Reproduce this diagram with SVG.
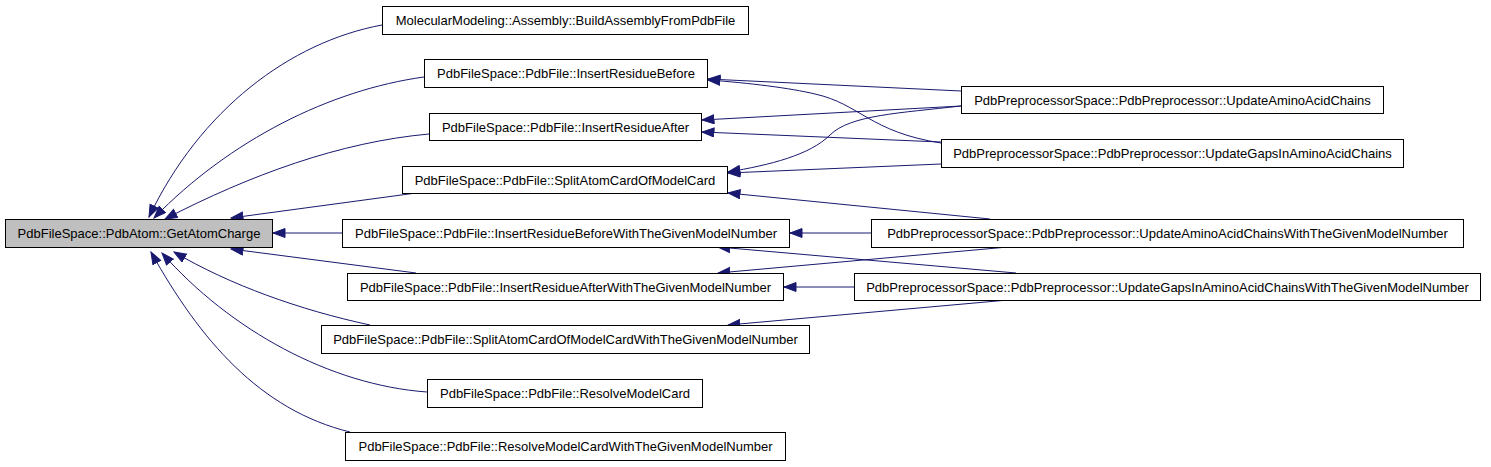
<svg xmlns="http://www.w3.org/2000/svg" width="1491" height="467" viewBox="0 0 1491 467">
<style>
.node rect{fill:#ffffff;stroke:#000000;stroke-width:1}
.node.root rect{fill:#bfbfbf}
.node text{font-family:"Liberation Sans",Arial,sans-serif;font-size:13px;fill:#000000;text-anchor:middle}
.edges path{fill:none;stroke:#191970;stroke-width:1;marker-end:url(#arr)}
</style>
<defs>
<marker id="arr" markerUnits="userSpaceOnUse" markerWidth="14" markerHeight="11" refX="12.5" refY="5" orient="auto">
<path d="M0.5,0.5 L12.5,5 L0.5,9.5 z" fill="#191970" stroke="#191970" stroke-width="1"/>
</marker>
</defs>
<rect width="1491" height="467" fill="#ffffff"/>
<g class="edges">
<path d="M382,25 C290,42 200,110 149,217"/>
<path d="M424,77 C330,90 230,140 154,218"/>
<path d="M429,134 C340,142 250,175 165,219"/>
<path d="M416,193 L231,218"/>
<path d="M342,233 L273,233"/>
<path d="M416,273 L231,249"/>
<path d="M370,325 C300,310 230,285 174,252"/>
<path d="M427,392 C330,385 230,330 162,253"/>
<path d="M350,432 C260,410 200,340 151,252"/>
<path d="M961,91 L708,79"/>
<path d="M941,143 C870,132 860,104 815,94 C790,88 750,83 708,80"/>
<path d="M961,106 L702,120"/>
<path d="M941,142 L702,132"/>
<path d="M961,106 C900,113 850,115 830,135 C810,155 770,165 728,172"/>
<path d="M941,164 L728,173"/>
<path d="M990,219 L728,193"/>
<path d="M871,233 L790,233"/>
<path d="M1016,273 L718,247"/>
<path d="M1008,247 L718,273"/>
<path d="M854,287 L784,287"/>
<path d="M1008,300 L728,325"/>
</g>
<g id="n0" class="node root"><rect x="5.5" y="219.5" width="267" height="28"/><text x="139" y="238">PdbFileSpace::PdbAtom::GetAtomCharge</text></g>
<g id="n1" class="node"><rect x="382.5" y="6.5" width="366" height="28"/><text x="565.5" y="25">MolecularModeling::Assembly::BuildAssemblyFromPdbFile</text></g>
<g id="n2" class="node"><rect x="424.5" y="59.5" width="283" height="28"/><text x="566" y="78">PdbFileSpace::PdbFile::InsertResidueBefore</text></g>
<g id="n3" class="node"><rect x="429.5" y="113.5" width="272" height="27"/><text x="565.5" y="131.5">PdbFileSpace::PdbFile::InsertResidueAfter</text></g>
<g id="n4" class="node"><rect x="402.5" y="166.5" width="325" height="27"/><text x="565" y="184.5">PdbFileSpace::PdbFile::SplitAtomCardOfModelCard</text></g>
<g id="n5" class="node"><rect x="342.5" y="219.5" width="447" height="28"/><text x="566" y="238">PdbFileSpace::PdbFile::InsertResidueBeforeWithTheGivenModelNumber</text></g>
<g id="n6" class="node"><rect x="347.5" y="273.5" width="436" height="27"/><text x="565.5" y="291.5">PdbFileSpace::PdbFile::InsertResidueAfterWithTheGivenModelNumber</text></g>
<g id="n7" class="node"><rect x="321.5" y="325.5" width="488" height="28"/><text x="565.5" y="344">PdbFileSpace::PdbFile::SplitAtomCardOfModelCardWithTheGivenModelNumber</text></g>
<g id="n8" class="node"><rect x="427.5" y="379.5" width="275" height="28"/><text x="565" y="398">PdbFileSpace::PdbFile::ResolveModelCard</text></g>
<g id="n9" class="node"><rect x="345.5" y="432.5" width="440" height="28"/><text x="565.5" y="451">PdbFileSpace::PdbFile::ResolveModelCardWithTheGivenModelNumber</text></g>
<g id="n10" class="node"><rect x="961.5" y="86.5" width="422" height="27"/><text x="1172.5" y="104.5">PdbPreprocessorSpace::PdbPreprocessor::UpdateAminoAcidChains</text></g>
<g id="n11" class="node"><rect x="941.5" y="139.5" width="462" height="28"/><text x="1172.5" y="158">PdbPreprocessorSpace::PdbPreprocessor::UpdateGapsInAminoAcidChains</text></g>
<g id="n12" class="node"><rect x="871.5" y="219.5" width="592" height="28"/><text x="1167.5" y="238">PdbPreprocessorSpace::PdbPreprocessor::UpdateAminoAcidChainsWithTheGivenModelNumber</text></g>
<g id="n13" class="node"><rect x="854.5" y="273.5" width="626" height="27"/><text x="1167.5" y="291.5">PdbPreprocessorSpace::PdbPreprocessor::UpdateGapsInAminoAcidChainsWithTheGivenModelNumber</text></g>
</svg>
